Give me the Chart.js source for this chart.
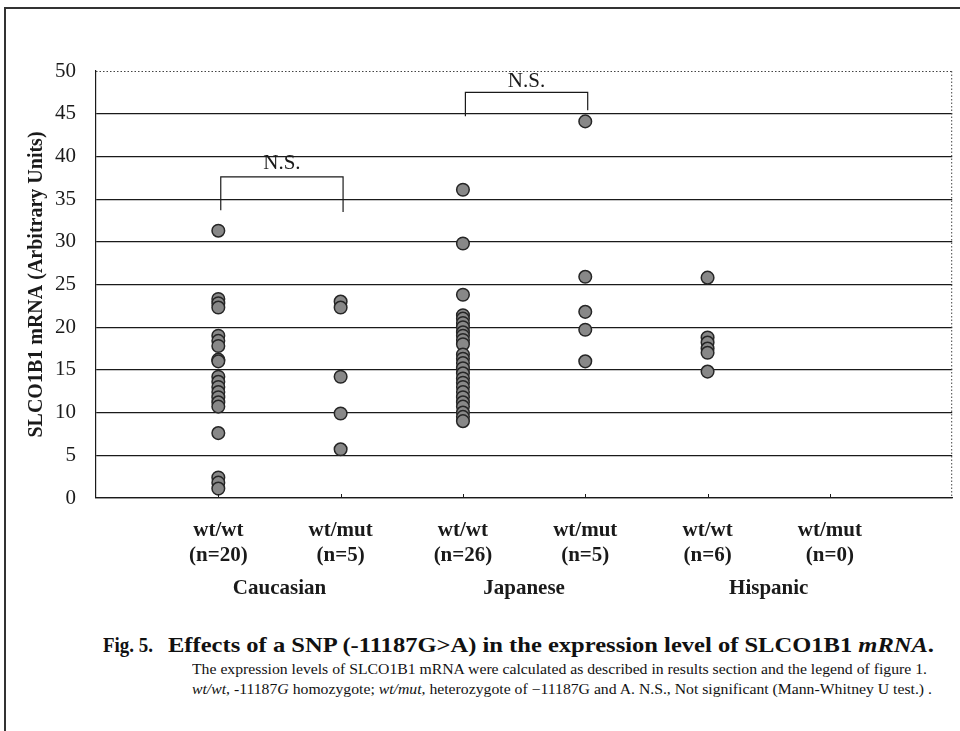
<!DOCTYPE html>
<html>
<head>
<meta charset="utf-8">
<script src="https://cdn.jsdelivr.net/npm/chart.js@4.4.0/dist/chart.umd.min.js"></script>
<style>
  html, body { margin: 0; padding: 0; background: #fff; }
  #wrap { position: relative; width: 960px; height: 731px; overflow: hidden; }
  #frame { position: absolute; left: 4px; top: 7px; right: -10px; bottom: -10px;
           border-left: 2px solid #333; border-top: 2px solid #333; }
  #chart { position: absolute; left: 0; top: 0; }
  .cap { position: absolute; font-family: "Liberation Serif", "Times New Roman", serif;
         color: #111; white-space: nowrap; transform-origin: 0 0; }
  #figNo { left: 103px; top: 632px; font-size: 22px; font-weight: bold; }
  #cap1 { left: 168px; top: 632px; font-size: 22px; font-weight: bold; }
  #cap2 { left: 192px; top: 661px; font-size: 14.5px; }
  #cap3 { left: 192px; top: 681px; font-size: 14.5px; }
</style>
</head>
<body>
<div id="wrap">
  <div id="frame"></div>
  <canvas id="chart" width="960" height="620"></canvas>
  <div class="cap" id="figNo" data-w="50">Fig. 5.</div>
  <div class="cap" id="cap1" data-w="766">Effects of a SNP (-11187G&gt;A) in the expression level of SLCO1B1 <i>mRNA</i>.</div>
  <div class="cap" id="cap2" data-w="735">The expression levels of SLCO1B1 mRNA were calculated as described in results section and the legend of figure 1.</div>
  <div class="cap" id="cap3" data-w="740"><i>wt/wt</i>, -11187<i>G</i> homozygote; <i>wt/mut</i>, heterozygote of −11187G and A. N.S., Not significant (Mann-Whitney U test.) .</div>
</div>
<script>
// categories along the x axis (positions 1..6)
const genotypes = ['wt/wt', 'wt/mut', 'wt/wt', 'wt/mut', 'wt/wt', 'wt/mut'];
const sampleSizes = ['(n=20)', '(n=5)', '(n=26)', '(n=5)', '(n=6)', '(n=0)'];
const populations = ['Caucasian', 'Japanese', 'Hispanic'];

// y axis
const yMin = 0, yMax = 50, yStep = 5;
const yTitle = 'SLCO1B1 mRNA (Arbitrary Units)';

// expression values
const caucasianWt = [31.3, 23.3, 22.8, 22.3, 19.0, 18.4, 17.8, 16.2, 16.0, 14.2, 13.6,
                     13.0, 12.4, 11.8, 11.2, 10.7, 7.6, 2.4, 1.8, 1.1];
const caucasianMut = [23.0, 22.3, 14.2, 9.9, 5.7];
const japaneseWt = [36.1, 29.8, 23.8, 21.4, 21.0, 20.5, 20.0, 19.4, 19.0, 18.5, 18.0,
                    16.8, 16.3, 15.8, 15.2, 14.6, 14.0, 13.5, 13.0, 12.4, 11.8, 11.2,
                    10.7, 10.0, 9.5, 9.0];
const japaneseMut = [44.1, 25.9, 21.8, 19.7, 16.0];
const hispanicWt = [25.8, 18.8, 18.2, 17.5, 17.0, 14.8];
const hispanicMut = [];
const groups = [caucasianWt, caucasianMut, japaneseWt, japaneseMut, hispanicWt, hispanicMut];

// significance brackets
const brackets = [
  { from: 1.02, to: 2.02, leftEnd: 33.7, top: 37.6, rightEnd: 33.5, label: 'N.S.', labelY: 39.2 },
  { from: 3.02, to: 4.02, leftEnd: 44.7, top: 47.5, rightEnd: 45.4, label: 'N.S.', labelY: 48.8 }
];

const SERIF = '"Liberation Serif", "Times New Roman", serif';
const INK = '#1a1a1a';

const pointSets = groups.map((vals, i) => ({
  label: genotypes[i] + ' ' + sampleSizes[i],
  data: vals.map(v => ({ x: i + 1, y: v })),
  pointRadius: 6.3,
  pointBackgroundColor: '#888888',
  pointBorderColor: '#262626',
  pointBorderWidth: 1.5,
  showLine: false
}));

const bracketSets = brackets.map(b => ({
  label: b.label,
  data: [{ x: b.from, y: b.leftEnd }, { x: b.from, y: b.top },
         { x: b.to, y: b.top }, { x: b.to, y: b.rightEnd }],
  showLine: true,
  pointRadius: 0,
  borderColor: INK,
  borderWidth: 1.2,
  tension: 0
}));

const extrasPlugin = {
  id: 'extras',
  afterDraw(chart) {
    const { ctx, chartArea: a, scales: { x, y } } = chart;
    ctx.save();
    // dotted top and right edges of the plot
    ctx.strokeStyle = '#444';
    ctx.lineWidth = 1;
    ctx.setLineDash([1.5, 2]);
    ctx.beginPath();
    ctx.moveTo(a.left, a.top + 0.5);
    ctx.lineTo(a.right, a.top + 0.5);
    ctx.moveTo(a.right - 0.5, a.top);
    ctx.lineTo(a.right - 0.5, a.bottom);
    ctx.stroke();
    ctx.setLineDash([]);
    // small inward ticks on the category axis
    ctx.strokeStyle = INK;
    ctx.lineWidth = 1;
    genotypes.forEach((g, i) => {
      const px = Math.round(x.getPixelForValue(i + 1)) + 0.5;
      ctx.beginPath();
      ctx.moveTo(px, a.bottom);
      ctx.lineTo(px, a.bottom - 4);
      ctx.stroke();
    });
    // N.S. labels
    ctx.fillStyle = INK;
    ctx.font = '21px ' + SERIF;
    ctx.textAlign = 'center';
    ctx.textBaseline = 'middle';
    brackets.forEach(b => {
      ctx.fillText(b.label, x.getPixelForValue((b.from + b.to) / 2), y.getPixelForValue(b.labelY));
    });
    // population labels under each pair
    ctx.font = 'bold 21px ' + SERIF;
    populations.forEach((p, i) => {
      const cx = (x.getPixelForValue(2 * i + 1) + x.getPixelForValue(2 * i + 2)) / 2;
      ctx.fillText(p, cx, a.bottom + 91);
    });
    ctx.restore();
  }
};

new Chart(document.getElementById('chart'), {
  type: 'scatter',
  data: { datasets: [...pointSets, ...bracketSets] },
  options: {
    responsive: false,
    animation: false,
    layout: { padding: { top: 71, right: 4, left: 0, bottom: 0 } },
    plugins: { legend: { display: false }, tooltip: { enabled: false } },
    scales: {
      x: {
        type: 'linear',
        min: 0,
        max: 7,
        afterFit: s => { s.height = 122; },
        afterBuildTicks: s => { s.ticks = genotypes.map((g, i) => ({ value: i + 1 })); },
        ticks: {
          autoSkip: false,
          maxRotation: 0,
          padding: 21,
          color: INK,
          font: { family: SERIF, size: 21, weight: 'bold', lineHeight: 1.15 },
          callback: v => [genotypes[v - 1], sampleSizes[v - 1]]
        },
        grid: { display: false, drawTicks: false },
        border: { display: true, color: INK, width: 1.2 }
      },
      y: {
        min: yMin,
        max: yMax,
        afterFit: s => { s.width = 96; },
        ticks: {
          stepSize: yStep,
          padding: 20,
          color: INK,
          font: { family: SERIF, size: 21 }
        },
        grid: {
          drawTicks: false,
          lineWidth: 1.2,
          color: c => (c.tick && c.tick.value === yMax) ? 'rgba(0,0,0,0)' : INK
        },
        border: { display: true, color: INK, width: 1.2 },
        title: {
          display: true,
          text: yTitle,
          color: INK,
          font: { family: SERIF, size: 20, weight: 'bold' },
          padding: { top: 25, bottom: 0 }
        }
      }
    }
  },
  plugins: [extrasPlugin]
});

// stretch caption lines to the widths they have in the figure
document.querySelectorAll('.cap').forEach(el => {
  const target = parseFloat(el.dataset.w);
  const w = el.getBoundingClientRect().width;
  if (w > 0) el.style.transform = 'scaleX(' + (target / w).toFixed(4) + ')';
});
</script>
</body>
</html>
